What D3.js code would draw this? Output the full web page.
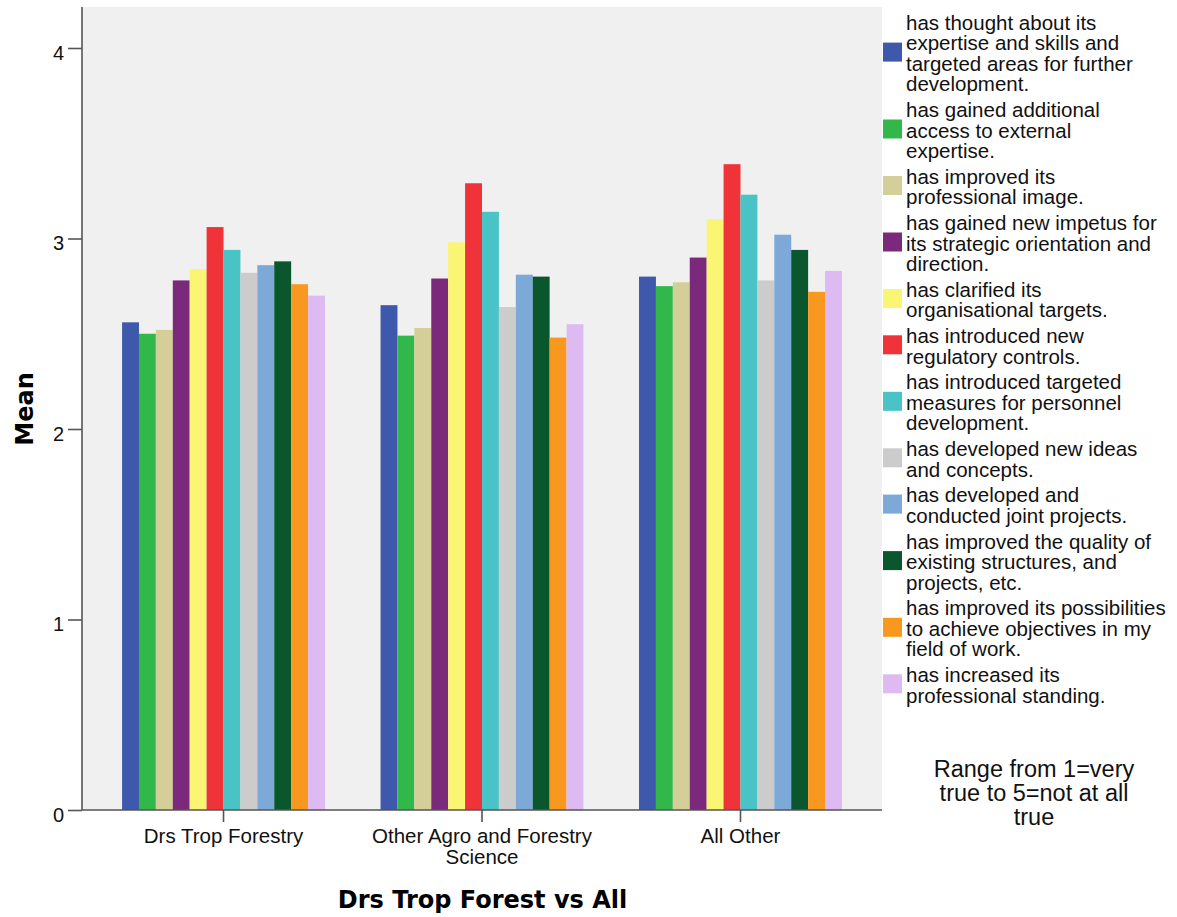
<!DOCTYPE html>
<html>
<head>
<meta charset="utf-8">
<script src="https://cdn.jsdelivr.net/npm/d3@7"></script>
<style>
  html, body { margin: 0; padding: 0; background: #ffffff; }
  svg { display: block; }
</style>
</head>
<body>
<svg id="chart" width="1177" height="917"></svg>
<script>
// ---- data ----
const categories = ["Drs Trop Forestry", "Other Agro and Forestry Science", "All Other"];
const categoryLabelLines = [["Drs Trop Forestry"], ["Other Agro and Forestry", "Science"], ["All Other"]];

const seriesNames = [
  "has thought about its expertise and skills and targeted areas for further development.",
  "has gained additional access to external expertise.",
  "has improved its professional image.",
  "has gained new impetus for its strategic orientation and direction.",
  "has clarified its organisational targets.",
  "has introduced new regulatory controls.",
  "has introduced targeted measures for personnel development.",
  "has developed new ideas and concepts.",
  "has developed and conducted joint projects.",
  "has improved the quality of existing structures, and projects, etc.",
  "has improved its possibilities to achieve objectives in my field of work.",
  "has increased its professional standing."
];
const seriesLegendLines = [
  ["has thought about its", "expertise and skills and", "targeted areas for further", "development."],
  ["has gained additional", "access to external", "expertise."],
  ["has improved its", "professional image."],
  ["has gained new impetus for", "its strategic orientation and", "direction."],
  ["has clarified its", "organisational targets."],
  ["has introduced new", "regulatory controls."],
  ["has introduced targeted", "measures for personnel", "development."],
  ["has developed new ideas", "and concepts."],
  ["has developed and", "conducted joint projects."],
  ["has improved the quality of", "existing structures, and", "projects, etc."],
  ["has improved its possibilities", "to achieve objectives in my", "field of work."],
  ["has increased its", "professional standing."]
];

// mean per series, in category order
const thoughtExpertise   = [2.56, 2.65, 2.80];
const externalExpertise  = [2.50, 2.49, 2.75];
const professionalImage  = [2.52, 2.53, 2.77];
const strategicImpetus   = [2.78, 2.79, 2.90];
const organisationalTgts = [2.84, 2.98, 3.10];
const regulatoryControls = [3.06, 3.29, 3.39];
const personnelMeasures  = [2.94, 3.14, 3.23];
const newIdeas           = [2.82, 2.64, 2.78];
const jointProjects      = [2.86, 2.81, 3.02];
const qualityStructures  = [2.88, 2.80, 2.94];
const achieveObjectives  = [2.76, 2.48, 2.72];
const professionalStand  = [2.70, 2.55, 2.83];

const seriesValues = [thoughtExpertise, externalExpertise, professionalImage, strategicImpetus,
  organisationalTgts, regulatoryControls, personnelMeasures, newIdeas, jointProjects,
  qualityStructures, achieveObjectives, professionalStand];

const seriesColors = ["#3e58ac", "#32b84a", "#d4cf98", "#7b2a7b", "#faf572", "#f03339",
  "#49c3c6", "#cccccc", "#7ca9d7", "#0b572d", "#f8981e", "#ddbaf1"];

const yTicks = [0, 1, 2, 3, 4];
const xAxisTitle = "Drs Trop Forest vs All";
const yAxisTitle = "Mean";
const noteLines = ["Range from 1=very", "true to 5=not at all", "true"];

// ---- layout ----
const svg = d3.select("#chart");
const plotLeft = 82, plotRight = 882, plotTop = 7, plotBottom = 810;
const sansFont = "'Liberation Sans', Arial, sans-serif";
const boldFont = "'DejaVu Sans', Verdana, sans-serif";

const x0 = d3.scaleBand().domain(categories).range([plotLeft, plotRight])
  .paddingInner(0.215).paddingOuter(0.155);
const x1 = d3.scaleBand().domain(d3.range(seriesNames.length)).range([0, x0.bandwidth()]).padding(0);
const y = d3.scaleLinear().domain([0, 4]).range([plotBottom, 48]);

// plot background
svg.append("rect").attr("x", plotLeft).attr("y", plotTop)
  .attr("width", plotRight - plotLeft).attr("height", plotBottom - plotTop)
  .attr("fill", "#f0f0f0");

// bars
const groups = svg.append("g").selectAll("g").data(categories).join("g")
  .attr("transform", d => `translate(${x0(d)},0)`);
groups.selectAll("rect")
  .data((c, ci) => seriesValues.map((vals, si) => ({ si, v: vals[ci] })))
  .join("rect")
  .attr("x", d => x1(d.si))
  .attr("width", x1.bandwidth())
  .attr("y", d => y(d.v))
  .attr("height", d => y(0) - y(d.v))
  .attr("fill", d => seriesColors[d.si]);

// y axis
const yAxis = svg.append("g").attr("transform", `translate(${plotLeft},0)`)
  .call(d3.axisLeft(y).tickValues(yTicks).tickSize(14).tickPadding(4).tickFormat(d3.format("d")));
yAxis.select(".domain").attr("d", `M0,${plotTop}V${plotBottom}`);
yAxis.selectAll("path, line").attr("stroke", "#555").attr("stroke-width", 1.6);
yAxis.selectAll("text").attr("font-family", sansFont).attr("font-size", 20)
  .attr("fill", "#111").attr("dy", 11);

// x axis
const xAxis = svg.append("g").attr("transform", `translate(0,${plotBottom})`)
  .call(d3.axisBottom(x0).tickSize(12).tickSizeOuter(0).tickFormat(""));
xAxis.select(".domain").attr("d", `M${plotLeft},0H${plotRight}`);
xAxis.selectAll("path, line").attr("stroke", "#555").attr("stroke-width", 1.6);
xAxis.selectAll(".tick").each(function (d) {
  const lines = categoryLabelLines[categories.indexOf(d)];
  const t = d3.select(this).append("text")
    .attr("font-family", sansFont).attr("font-size", 20.5).attr("fill", "#111")
    .attr("text-anchor", "middle");
  lines.forEach((ln, i) => t.append("tspan").attr("x", 0).attr("y", 33 + i * 21).text(ln));
});

// axis titles
svg.append("text").attr("x", (plotLeft + plotRight) / 2 + 0.5).attr("y", 908)
  .attr("text-anchor", "middle").attr("font-family", boldFont).attr("font-weight", "bold")
  .attr("font-size", 24).attr("fill", "#000").text(xAxisTitle);
svg.append("text").attr("transform", "translate(33,409) rotate(-90)")
  .attr("text-anchor", "middle").attr("font-family", boldFont).attr("font-weight", "bold")
  .attr("font-size", 24).attr("fill", "#000").text(yAxisTitle);

// legend
const lineH = 20.4, entryGap = 5.5;
let base = 30;
const legend = svg.append("g");
seriesLegendLines.forEach((lines, i) => {
  const first = base, last = base + (lines.length - 1) * lineH;
  const cy = (first + last) / 2 - 8.5;
  legend.append("rect").attr("x", 883).attr("y", cy - 9.5).attr("width", 19).attr("height", 19)
    .attr("fill", seriesColors[i]);
  const t = legend.append("text").attr("font-family", sansFont).attr("font-size", 20.5).attr("fill", "#111");
  lines.forEach((ln, k) => t.append("tspan").attr("x", 906).attr("y", first + k * lineH).text(ln));
  base = last + lineH + entryGap;
});

// note
const note = svg.append("text").attr("font-family", sansFont).attr("font-size", 23.5)
  .attr("fill", "#111").attr("text-anchor", "middle");
noteLines.forEach((ln, k) => note.append("tspan").attr("x", 1034).attr("y", 777 + k * 24).text(ln));
</script>
</body>
</html>
